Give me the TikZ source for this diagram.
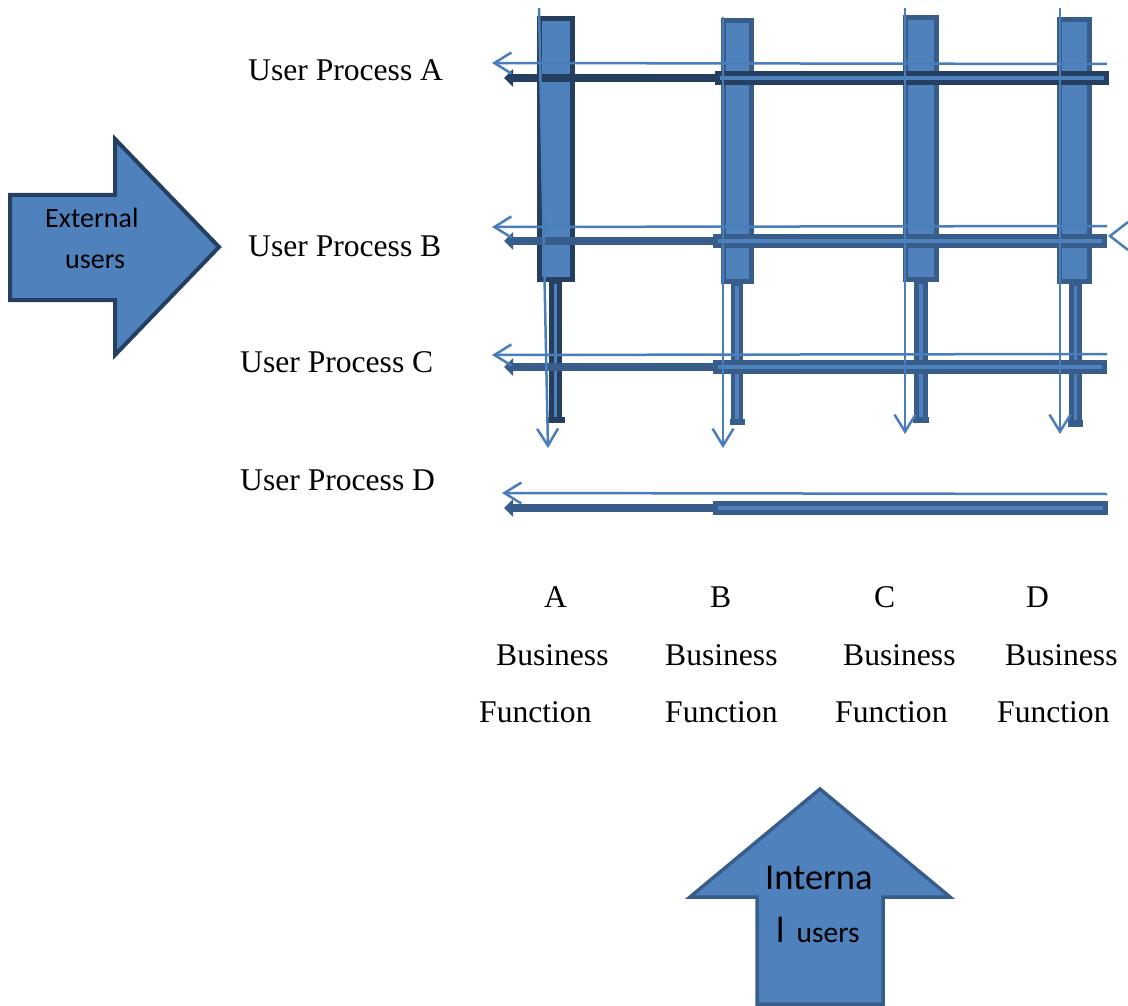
\documentclass[tikz,border=0pt]{standalone}
\usepackage{fontspec}
\setmainfont{Liberation Serif}
\newfontfamily\calibri{Carlito}
\usetikzlibrary{arrows.meta}
\definecolor{fillblue}{HTML}{4F81BD}
\definecolor{edgeblue}{HTML}{385D8A}
\definecolor{navyblue}{HTML}{243F60}
\definecolor{lineblue}{HTML}{4A7EBB}
\begin{document}
\begin{tikzpicture}[x=1pt,y=-1pt,
  lbl/.style={anchor=base west, inner sep=0pt, font=\fontsize{31.6}{31.6}\selectfont},
  bigarrow/.style={fill=fillblue, line width=4pt, line join=miter},
  colbar/.style={fill=fillblue, line width=5pt},
  stembar/.style={fill=fillblue, line width=4.5pt},
  rowbar/.style={fill=fillblue, line width=5pt},
  leadline/.style={line width=8pt, -{Triangle[length=9pt,width=17pt]}},
  thinarrow/.style={draw=lineblue, line width=2.5pt, -{Straight Barb[length=17pt,width=21pt]}},
  usertext/.style={inner sep=0pt, anchor=base west, text=black}]
\useasboundingbox (0,0) rectangle (1128,1006);

% ---- big block arrows ----
\draw[bigarrow, draw=navyblue] (10,195) -- (115,195) -- (115,139) -- (219,247)
  -- (115,355) -- (115,300) -- (10,300) -- cycle;
\node[usertext, font=\calibri\fontsize{28}{28}\selectfont] (ext1) at (45,228) {External};
\node[usertext, font=\calibri\fontsize{28}{28}\selectfont] (ext2) at (65,269) {users};

\draw[bigarrow, draw=edgeblue, line width=3.5pt] (757,1004) -- (757,897) -- (690,897) -- (820,789)
  -- (950,897) -- (883,897) -- (883,1004) -- cycle;
\node[usertext, font=\calibri\fontsize{36.5}{36.5}\selectfont] (int1) at (765,889) {Interna};
\node[usertext, font=\calibri\fontsize{36.5}{36.5}\selectfont] (int2) at (776,942)
  {l\hspace{12pt}{\fontsize{29.5}{29.5}\selectfont users}};

% ---- business function columns ----
\draw[colbar, draw=navyblue] (539.5,18.5) rectangle (572.5,279.5);
\draw[colbar, draw=edgeblue] (723.5,20.5) rectangle (751.5,281.5);
\draw[colbar, draw=edgeblue] (905.5,17.5) rectangle (936.5,279.5);
\draw[colbar, draw=edgeblue] (1059.5,19.5) rectangle (1089.5,281.5);

% narrow stems below the columns
\draw[stembar, draw=navyblue] (551.5,282) rectangle (559.5,420);
\fill[navyblue] (548,417) rectangle (565,423);
\draw[stembar, draw=edgeblue] (733,284) rectangle (741,422);
\fill[edgeblue] (730,419) rectangle (745,425);
\draw[stembar, draw=edgeblue] (916.5,282) rectangle (925.5,420);
\fill[edgeblue] (913,417) rectangle (929,423);
\draw[stembar, draw=edgeblue] (1071.5,284) rectangle (1079.5,424);
\fill[edgeblue] (1068,420) rectangle (1083,427);

% ---- user process rows: thick lead lines and bars ----
\coordinate (la) at (715,78);  \coordinate (ta) at (504,78);
\coordinate (lb) at (713,241); \coordinate (tb) at (504,241);
\coordinate (lc) at (713,367); \coordinate (tc) at (504,367);
\coordinate (ld) at (713,508); \coordinate (td) at (504,508);
\draw[leadline, draw=navyblue, fill=navyblue] (la) -- (ta);
\draw[leadline, draw=edgeblue, fill=edgeblue] (lb) -- (tb);
\draw[leadline, draw=edgeblue, fill=edgeblue] (lc) -- (tc);
\draw[leadline, draw=edgeblue, fill=edgeblue] (ld) -- (td);
\draw[rowbar, draw=navyblue] (717.5,73.5) rectangle (1106.5,82.5);
\draw[rowbar, draw=edgeblue] (715.5,236.5) rectangle (1104.5,245.5);
\draw[rowbar, draw=edgeblue] (715.5,362.5) rectangle (1104.5,371.5);
\draw[rowbar, draw=edgeblue] (715.5,503.5) rectangle (1105.5,512.5);

% ---- thin flow arrows along the rows ----
\coordinate (ra) at (1107,64);  \coordinate (ea) at (492,63);
\coordinate (rb) at (1107,226); \coordinate (eb) at (492,227);
\coordinate (rc) at (1107,354); \coordinate (ec) at (492,355);
\coordinate (rd) at (1107,494); \coordinate (ed) at (502,493);
\draw[thinarrow] (ra) -- (ea);
\draw[thinarrow] (rb) -- (eb);
\draw[thinarrow] (rc) -- (ec);
\draw[thinarrow] (rd) -- (ed);
% incoming arrow head at the right edge of row B
\coordinate (hb) at (1110,236);
\draw[draw=lineblue, line width=2.5pt] (1128,222) -- (hb) -- (1128,250);

% ---- thin flow arrows down the columns ----
\coordinate (sa) at (539,8);  \coordinate (da) at (548,448);
\coordinate (sb) at (723,17); \coordinate (db) at (723,448);
\coordinate (sc) at (905,8);  \coordinate (dc) at (905,434);
\coordinate (sd) at (1060,8); \coordinate (dd) at (1060,434);
\draw[thinarrow] (sa) -- (da);
\draw[thinarrow] (sb) -- (db);
\draw[thinarrow] (sc) -- (dc);
\draw[thinarrow] (sd) -- (dd);

% ---- labels ----
\node[lbl] (upa) at (248,81) {User Process A};
\node[lbl] (upb) at (248,256) {User Process B};
\node[lbl] (upc) at (240,372) {User Process C};
\node[lbl] (upd) at (240,490) {User Process D};

\node[lbl] (fa) at (544,607) {A};
\node[lbl] (fb) at (710,607) {B};
\node[lbl] (fc) at (874,607) {C};
\node[lbl] (fd) at (1026,607) {D};
\node[lbl] (ba) at (496,665) {Business};
\node[lbl] (bb) at (665,665) {Business};
\node[lbl] (bc) at (843,665) {Business};
\node[lbl] (bd) at (1005,665) {Business};
\node[lbl] (na) at (479,722) {Function};
\node[lbl] (nb) at (665,722) {Function};
\node[lbl] (nc) at (835,722) {Function};
\node[lbl] (nd) at (997,722) {Function};
\end{tikzpicture}
\end{document}
